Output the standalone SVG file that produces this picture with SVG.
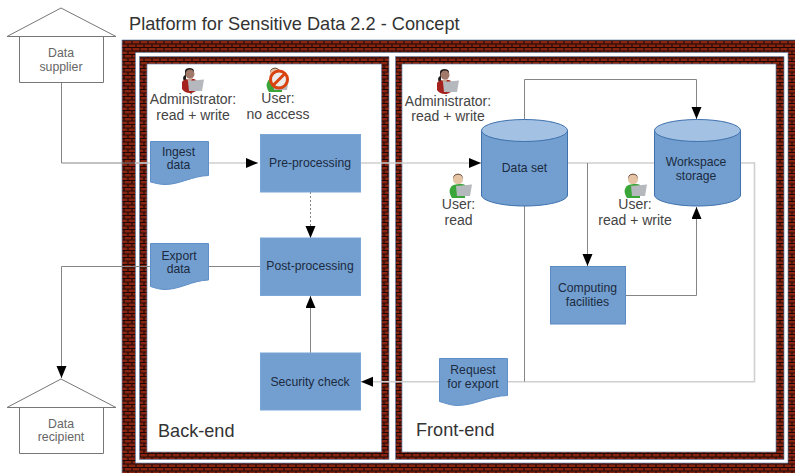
<svg xmlns="http://www.w3.org/2000/svg" width="795" height="473" viewBox="0 0 795 473">
<style>
text{font-family:"Liberation Sans",Arial,sans-serif;text-anchor:middle}
.title{font-size:18.200px;fill:#333;text-anchor:start}
.area{font-size:18.100px;fill:#333;text-anchor:start}
.role{font-size:14px;fill:#444}
.node{font-size:12.200px;fill:#1c2a3f}
.ext{font-size:12.300px;fill:#666}
.box{fill:#729fcf;stroke:#7ba6d8;stroke-width:1}
.doc{fill:#729fcf;stroke:#5f8fc8;stroke-width:1}
.cyl{fill:#729fcf;stroke:#3f71ad;stroke-width:1}
.cyltop{fill:#a3c1e2;stroke:#3f71ad;stroke-width:1}
.house{fill:#fff;stroke:#777;stroke-width:1}
.brick{stroke:#6b86ad;stroke-width:.7;fill:url(#brick);fill-rule:evenodd}
.c{fill:none;stroke:#858585;stroke-width:1}
.l{fill:none;stroke:#cfcfcf;stroke-width:1.6}
.d{stroke-dasharray:2 2}
</style>
<defs>
<pattern id="brick" patternUnits="userSpaceOnUse" width="8" height="7" x="122" y="40">
<rect width="8" height="7" fill="#8a2410"/>
<path d="M0 .5H8M0 4H8M2 0V3.500M6 3.500V7" stroke="#1c0906" stroke-width="1.100"/>
</pattern>
<marker id="a" markerUnits="userSpaceOnUse" markerWidth="13" markerHeight="11" refX="12" refY="5" orient="auto">
<path d="M0 0L12 5L0 10Z" fill="#000"/>
</marker>
<g id="laptop"><path d="M7 13L23 11.500L21 23L8 23Z" fill="#b5b8bc"/></g>
<g id="admin">
<path d="M3 13C1 9 3 8 4 7L4 3C4 -1 13 -1 13 3L13 6L9 3L5 7L5 12Z" fill="#1f1a1a"/>
<circle cx="9" cy="6" r="4.500" fill="#a0796a"/>
<path d="M1 14C3 10 13 10 15 12L15 23C11 26 4 26 1 21Z" fill="#a5211d"/>
<path d="M6 11L9 17L11 11Z" fill="#c9a793"/>
<use href="#laptop" x="0"/>
</g>
<g id="user">
<path d="M4 6C4 -1 14 -1 14 6L9 4Z" fill="#4a2a1a"/>
<circle cx="9" cy="6.500" r="5" fill="#e5c4a6"/>
<path d="M2 14C3 11 14 10 16 12L16 25L3 25C0 20 0 17 2 14Z" fill="#3aa63a"/>
<use href="#laptop" x="0"/>
</g>
</defs>

<rect width="795" height="473" fill="#fff"/>

<g id="frames">
<path id="platform" class="brick" d="M122 40H796V474H122ZM135.500 52.500V463H788V52.500Z"/>
<path id="backend" class="brick" d="M139.500 56.500H389V459.500H139.500ZM147 64V452H381.500V64Z"/>
<path id="frontend" class="brick" d="M395.500 56.500H784V459.500H395.500ZM402 64V452H776V64Z"/>
</g>

<text class="title" x="129" y="30">Platform for Sensitive Data 2.2 - Concept</text>
<text class="area" x="158" y="437">Back-end</text>
<text class="area" x="416" y="436">Front-end</text>

<g id="connectors">
<path class="c" d="M61.500 83V163H148"/>
<path class="l" d="M135 163H258" marker-end="url(#a)"/>
<path class="l" d="M361 163H481" marker-end="url(#a)"/>
<path class="c d" d="M310.500 192V238" marker-end="url(#a)"/>
<path class="c" d="M260 266.500H61.500V378" marker-end="url(#a)"/>
<path class="c" d="M310.500 353V296" marker-end="url(#a)"/>
<path class="l" d="M439 381.700H361" marker-end="url(#a)"/>
<path class="c" d="M524.500 120V79.500H696.500V119" marker-end="url(#a)"/>
<path class="l" d="M568 163H654M741 163H754.500V381.700H507"/>
<path class="c" d="M587.500 163V266" marker-end="url(#a)"/>
<path class="c" d="M524.500 206V381.500"/>
<path class="c" d="M625 295.500H696.500V207" marker-end="url(#a)"/>
</g>

<g id="data-supplier">
<path class="house" d="M19.500 36.500H103.500V82.500H19.500Z"/>
<path class="house" d="M7 36.500L61 8L116 36.500Z"/>
<text class="ext" x="61" y="57">Data</text>
<text class="ext" x="61" y="71">supplier</text>
</g>
<g id="data-recipient">
<path class="house" d="M19.500 407.500H103.500V453.500H19.500Z"/>
<path class="house" d="M7 407.500L61 379L116 407.500Z"/>
<text class="ext" x="61" y="428">Data</text>
<text class="ext" x="61" y="441">recipient</text>
</g>

<g id="ingest-data">
<path class="doc" d="M150.500 141.500H208.500V175.500C192 176 180 184.500 165 184.500C160 184.500 155 183 150.500 182Z"/>
<text class="node" x="178.500" y="156">Ingest</text>
<text class="node" x="178.500" y="169">data</text>
</g>
<g id="export-data">
<path class="doc" d="M150.500 243.500H208.500V280C192 280.500 180 289.500 165 289.500C160 289.500 155 288 150.500 286.500Z"/>
<text class="node" x="179" y="260">Export</text>
<text class="node" x="178.500" y="273">data</text>
</g>
<g id="request-for-export">
<path class="doc" d="M439.500 358.500H507.500V395.500C488 396 475 405.500 457 405.500C451 405.500 445 403 439.500 401.500Z"/>
<text class="node" x="473" y="374">Request</text>
<text class="node" x="473" y="388">for export</text>
</g>
<g id="pre-processing">
<rect class="box" x="260.500" y="134.500" width="100" height="57.500"/>
<text class="node" x="310" y="167">Pre-processing</text>
</g>
<g id="post-processing">
<rect class="box" x="260.500" y="238" width="100" height="57.500"/>
<text class="node" x="310" y="270">Post-processing</text>
</g>
<g id="security-check">
<rect class="box" x="260.500" y="353" width="100" height="57"/>
<text class="node" x="310" y="386">Security check</text>
</g>
<g id="computing-facilities">
<rect class="box" x="550.500" y="266.500" width="75" height="57.500" style="stroke:#5c8ac2"/>
<text class="node" x="587.500" y="292">Computing</text>
<text class="node" x="587.500" y="306">facilities</text>
</g>
<g id="data-set">
<path class="cyl" d="M481.500 130V195C481.500 201 501 206 524.500 206C548 206 567.500 201 567.500 195V130Z"/>
<ellipse class="cyltop" cx="524.500" cy="130.500" rx="43" ry="11"/>
<text class="node" x="524.500" y="172">Data set</text>
</g>
<g id="workspace-storage">
<path class="cyl" d="M654.500 130V195C654.500 201 674 206 697.500 206C721 206 740.500 201 740.500 195V130Z"/>
<ellipse class="cyltop" cx="697.500" cy="130.500" rx="43" ry="11"/>
<text class="node" x="696" y="166">Workspace</text>
<text class="node" x="696" y="180">storage</text>
</g>

<g id="role-admin-back">
<use href="#admin" x="181" y="68"/>
<text class="role" x="193" y="104">Administrator:</text>
<text class="role" x="193" y="120">read + write</text>
</g>
<g id="role-user-noaccess">
<use href="#user" x="266" y="67"/>
<circle cx="279" cy="79.500" r="8.500" fill="#ececec" stroke="#d8430f" stroke-width="3"/>
<path d="M273 85.500L285 73.500" stroke="#d8430f" stroke-width="3"/>
<text class="role" x="278" y="103">User:</text>
<text class="role" x="278" y="119">no access</text>
</g>
<g id="role-admin-front">
<use href="#admin" x="436" y="69"/>
<text class="role" x="448" y="106">Administrator:</text>
<text class="role" x="448" y="121">read + write</text>
</g>
<g id="role-user-read">
<use href="#user" x="449" y="173"/>
<text class="role" x="458.500" y="209">User:</text>
<text class="role" x="458.500" y="225">read</text>
</g>
<g id="role-user-readwrite">
<use href="#user" x="624" y="173"/>
<text class="role" x="635" y="209">User:</text>
<text class="role" x="635" y="225">read + write</text>
</g>
</svg>
